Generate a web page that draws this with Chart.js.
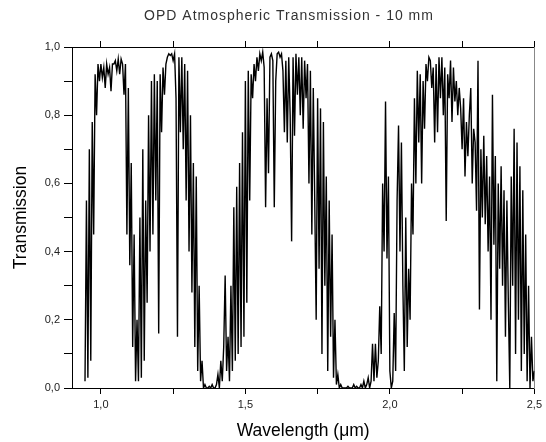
<!DOCTYPE html>
<html>
<head>
<meta charset="utf-8">
<script src="https://cdn.jsdelivr.net/npm/chart.js@4.4.1/dist/chart.umd.min.js"></script>
<style>
  html, body { margin: 0; padding: 0; background: #fff; }
  canvas { display: block; }
</style>
</head>
<body>
<canvas id="chart" width="546" height="442"></canvas>
<script>
const chartTitle = "OPD Atmospheric Transmission - 10 mm";
const xAxisTitle = "Wavelength (\u03bcm)";
const yAxisTitle = "Transmission";
const xMajorTicks = [1.0, 1.5, 2.0, 2.5];
const yMajorTicks = [0, 0.2, 0.4, 0.6, 0.8, 1.0];

// readings every 0.005 um
const sampleStep = 0.005;

// 0.945 - 1.140 um : first window and the 1.13 um water band
const bandOneStart = 0.945;
const bandOne = [
  0.02, 0.55, 0.03, 0.70, 0.08, 0.78, 0.45, 0.92, 0.80, 0.95,
  0.90, 0.95, 0.91, 0.94, 0.88, 0.95, 0.92, 0.94, 0.87, 0.95,
  0.95, 0.96, 0.93, 0.965, 0.92, 0.965, 0.95, 0.86, 0.95, 0.45,
  0.88, 0.36, 0.66, 0.12, 0.45, 0.02, 0.20, 0.02, 0.50, 0.03,
];

// 1.145 - 1.440 um : second window and the 1.4 um band
const bandTwoStart = 1.145;
const bandTwo = [
  0.70, 0.08, 0.55, 0.25, 0.80, 0.40, 0.90, 0.45, 0.92, 0.55,
  0.90, 0.16, 0.92, 0.75, 0.94, 0.86, 0.95, 0.97, 0.98, 0.975,
  0.98, 0.96, 0.98, 0.85, 0.15, 0.97, 0.75, 0.97, 0.70, 0.95,
  0.55, 0.93, 0.40, 0.80, 0.28, 0.66, 0.12, 0.62, 0.05, 0.30,
  0.02, 0.08, 0.0, 0.01, 0.0, 0.0, 0.005, 0.0, 0.01, 0.0,
  0.0, 0.01, 0.04, 0.0, 0.08, 0.02, 0.12, 0.33, 0.05, 0.15,
];

// 1.445 - 1.940 um : H window and the 1.9 um band
const bandThreeStart = 1.445;
const bandThree = [
  0.02, 0.30, 0.05, 0.53, 0.08, 0.59, 0.10, 0.66, 0.12, 0.75,
  0.15, 0.90, 0.25, 0.93, 0.55, 0.92, 0.85, 0.95, 0.90, 0.97,
  0.93, 0.98, 0.96, 0.985, 0.94, 0.53, 0.85, 0.63, 0.97, 0.98,
  0.96, 0.53, 0.90, 0.98, 0.985, 0.97, 0.98, 0.93, 0.75, 0.96,
  0.72, 0.97, 0.80, 0.43, 0.97, 0.74, 0.98, 0.86, 0.97, 0.80,
  0.97, 0.76, 0.96, 0.85, 0.95, 0.60, 0.93, 0.45, 0.88, 0.55,
  0.20, 0.85, 0.35, 0.82, 0.10, 0.78, 0.30, 0.62, 0.05, 0.55,
  0.15, 0.45, 0.03, 0.20, 0.01, 0.04, 0.0, 0.01, 0.0, 0.0,
  0.0, 0.0, 0.005, 0.0, 0.0, 0.0, 0.01, 0.0, 0.005, 0.0,
  0.0, 0.01, 0.0, 0.02, 0.0, 0.01, 0.03, 0.0, 0.02, 0.13,
];

// 1.945 - 2.500 um : K window
const bandFourStart = 1.945;
const bandFour = [
  0.02, 0.13, 0.03, 0.08, 0.24, 0.10, 0.60, 0.40, 0.84, 0.38,
  0.62, 0.05, 0.0, 0.02, 0.22, 0.05, 0.55, 0.77, 0.40, 0.72,
  0.30, 0.05, 0.50, 0.12, 0.35, 0.20, 0.60, 0.45, 0.85, 0.60,
  0.93, 0.72, 0.92, 0.60, 0.90, 0.76, 0.95, 0.90, 0.97, 0.96,
  0.88, 0.94, 0.72, 0.95, 0.75, 0.97, 0.85, 0.97, 0.80, 0.94,
  0.49, 0.92, 0.85, 0.96, 0.78, 0.94, 0.84, 0.90, 0.80, 0.88,
  0.82, 0.70, 0.85, 0.62, 0.78, 0.68, 0.80, 0.88, 0.60, 0.76,
  0.72, 0.52, 0.96, 0.23, 0.70, 0.50, 0.74, 0.48, 0.68, 0.40,
  0.62, 0.20, 0.86, 0.42, 0.68, 0.02, 0.60, 0.35, 0.65, 0.30,
  0.58, 0.15, 0.55, 0.25, 0.0, 0.62, 0.30, 0.76, 0.10, 0.72,
  0.20, 0.65, 0.05, 0.58, 0.10, 0.45, 0.02, 0.30, 0.0, 0.15, 0.02, 0.05,
];

const segments = [
  { start: bandOneStart, values: bandOne },
  { start: bandTwoStart, values: bandTwo },
  { start: bandThreeStart, values: bandThree },
  { start: bandFourStart, values: bandFour },
];

const points = [];
segments.forEach((seg) => {
  seg.values.forEach((value, i) => {
    points.push({ x: Number((seg.start + i * sampleStep).toFixed(4)), y: value });
  });
});

const fontFamily = "Arial, 'Liberation Sans', Helvetica, sans-serif";

function isMajor(list, value) {
  return list.some((tick) => Math.abs(tick - value) < 1e-6);
}

function commaLabel(value) {
  return value.toFixed(1).replace(".", ",");
}

const titlePlugin = {
  id: "plotTitle",
  afterDraw(chart) {
    const ctx = chart.ctx;
    ctx.save();
    ctx.font = "14px " + fontFamily;
    ctx.letterSpacing = "1px";
    ctx.fillStyle = "#333";
    ctx.textAlign = "center";
    ctx.textBaseline = "middle";
    ctx.fillText(chartTitle, 289, 16);
    ctx.restore();
  },
};

const tickFont = { family: fontFamily, size: 11 };
const axisTitleFont = { family: fontFamily, size: 17.5 };

new Chart(document.getElementById("chart"), {
  type: "line",
  data: {
    datasets: [{
      data: points,
      borderColor: "#000",
      borderWidth: 1.4,
      pointRadius: 0,
      tension: 0,
      fill: false,
      xAxisID: "x",
      yAxisID: "y",
    }],
  },
  options: {
    responsive: false,
    animation: false,
    devicePixelRatio: 1,
    parsing: false,
    layout: { padding: 0 },
    plugins: {
      legend: { display: false },
      tooltip: { enabled: false },
      title: { display: false },
    },
    scales: {
      x: {
        type: "linear",
        position: "bottom",
        min: 0.9,
        max: 2.5,
        ticks: {
          stepSize: 0.25,
          includeBounds: false,
          autoSkip: false,
          maxRotation: 0,
          padding: 4,
          color: "#222",
          font: tickFont,
          callback: (value) => (isMajor(xMajorTicks, value) ? commaLabel(value) : ""),
        },
        grid: { drawOnChartArea: false, drawTicks: true, tickLength: 6, color: "#000" },
        border: { color: "#000", width: 1 },
        title: {
          display: true,
          text: xAxisTitle,
          color: "#000",
          font: axisTitleFont,
          padding: { top: 0, bottom: 0 },
        },
        afterFit: (scale) => { scale.height = 54; },
      },
      xTop: {
        type: "linear",
        position: "top",
        min: 0.9,
        max: 2.5,
        ticks: {
          stepSize: 0.25,
          includeBounds: false,
          autoSkip: false,
          maxRotation: 0,
          callback: () => "",
        },
        grid: { drawOnChartArea: false, drawTicks: true, tickLength: 6, color: "#000" },
        border: { color: "#000", width: 1 },
        afterFit: (scale) => { scale.height = 47; },
      },
      y: {
        type: "linear",
        position: "left",
        min: 0,
        max: 1,
        ticks: {
          stepSize: 0.1,
          autoSkip: false,
          padding: 4,
          color: "#222",
          font: tickFont,
          callback: (value) => (isMajor(yMajorTicks, value) ? commaLabel(value) : ""),
        },
        grid: { drawOnChartArea: false, drawTicks: true, tickLength: 8, color: "#000" },
        border: { color: "#000", width: 1 },
        title: {
          display: true,
          text: yAxisTitle,
          color: "#000",
          font: axisTitleFont,
          padding: { top: 11, bottom: 0 },
        },
        afterFit: (scale) => { scale.width = 72; },
      },
      yRight: {
        type: "linear",
        position: "right",
        min: 0,
        max: 1,
        ticks: { display: false },
        grid: { drawOnChartArea: false, drawTicks: false },
        border: { color: "#888", width: 1 },
        afterFit: (scale) => { scale.width = 7; },
      },
    },
  },
  plugins: [titlePlugin],
});
</script>
</body>
</html>
